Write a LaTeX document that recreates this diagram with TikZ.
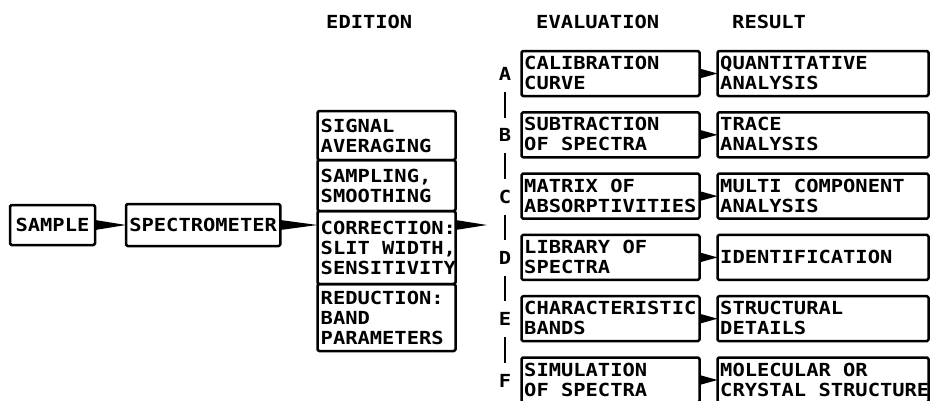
\documentclass[tikz,border=0pt]{standalone}
\usepackage{fontspec}
\usepackage{tikz}
\usetikzlibrary{positioning,calc}

\newfontfamily\leroy{DejaVu Sans Mono}[FakeStretch=1.135]

\begin{document}
\begin{tikzpicture}[x=1pt,y=-1pt,line join=round,
  lettering/.style={font=\leroy\bfseries\fontsize{18}{20}\selectfont},
  box/.style={draw=black,line width=2.5pt,rounded corners=1.5pt,outer sep=0pt},
  txt/.style={lettering,align=left,inner sep=0pt,anchor=west},
  wedge/.style={fill=black,to path={-- ([yshift=5pt]\tikztostart) -- (\tikztotarget) -- ([yshift=-5pt]\tikztostart) -- cycle}},
  bar/.style={line width=2.5pt,shorten <=11pt,shorten >=11pt}]

  \useasboundingbox (0,0) rectangle (930,400);

  % column heads
  \node[txt] (head_edition) at (326,22) {EDITION};
  \node[txt] (head_evaluation) at (536,22) {EVALUATION};
  \node[txt] (head_result) at (732,22) {RESULT};

  \node[box,lettering,minimum width=85pt,minimum height=40pt] (sample) at (52.5,225) {SAMPLE};
  \node[box,lettering,minimum width=154pt,minimum height=42pt,right=31pt of sample] (spectrometer) {SPECTROMETER};

  % #1 is name
  % #2 is top
  % #3 is height
  % #4 is text
  \newcommand{\editcell}[4]{
    \node[box,anchor=north west,minimum width=138pt,minimum height=#3] (#1) at (317.5,#2) {};
    \node[txt] (#1_text) at ([xshift=3pt]#1.west) {#4};
  }

  \editcell{signal}{111}{49pt}{SIGNAL\\AVERAGING}
  \editcell{sampling}{160}{51pt}{SAMPLING,\\SMOOTHING}
  \editcell{correction}{211}{73pt}{CORRECTION:\\SLIT WIDTH,\\SENSITIVITY}
  \editcell{reduction}{284}{67pt}{REDUCTION:\\BAND\\PARAMETERS}

  % #1 is row name
  % #2 is letter
  % #3 is top of the row
  % #4 is evaluation text
  % #5 is result text
  \newcommand{\evalrow}[5]{
    \node[txt,anchor=center] (letter_#1) at (505,#3+23) {#2};
    \node[box,anchor=north west,minimum width=178pt,minimum height=45pt] (eval_#1) at (521.5,#3) {};
    \node[txt] (eval_#1_text) at ([xshift=2.5pt,yshift=0.5pt]eval_#1.west) {#4};
    \node[box,anchor=north west,minimum width=211pt,minimum height=45pt] (result_#1) at (717.5,#3) {};
    \node[txt] (result_#1_text) at ([xshift=2.5pt,yshift=0.5pt]result_#1.west) {#5};
    \fill[wedge] (eval_#1.east) to (result_#1.west);
  }

  \evalrow{a}{A}{51}{CALIBRATION\\CURVE}{QUANTITATIVE\\ANALYSIS}
  \evalrow{b}{B}{112.3}{SUBTRACTION\\OF SPECTRA}{TRACE\\ANALYSIS}
  \evalrow{c}{C}{173.6}{MATRIX OF\\ABSORPTIVITIES}{MULTI COMPONENT\\ANALYSIS}
  \evalrow{d}{D}{234.9}{LIBRARY OF\\SPECTRA}{IDENTIFICATION}
  \evalrow{e}{E}{296.2}{CHARACTERISTIC\\BANDS}{STRUCTURAL\\DETAILS}
  \evalrow{f}{F}{357.5}{SIMULATION\\OF SPECTRA}{MOLECULAR OR\\CRYSTAL STRUCTURE}

  \foreach \a/\b in {a/b,b/c,c/d,d/e,e/f}
    \draw[bar] (letter_\a) -- (letter_\b);

  % wedges
  \coordinate (spec_out) at (spectrometer.east -| correction.west);
  \coordinate (eval_in) at (487,225);
  \coordinate (edit_out) at (correction.east |- eval_in);
  \fill[wedge] (sample.east) to (spectrometer.west);
  \fill[wedge] (spectrometer.east) to (spec_out);
  \fill[wedge] (edit_out) to (eval_in);

\end{tikzpicture}
\end{document}
